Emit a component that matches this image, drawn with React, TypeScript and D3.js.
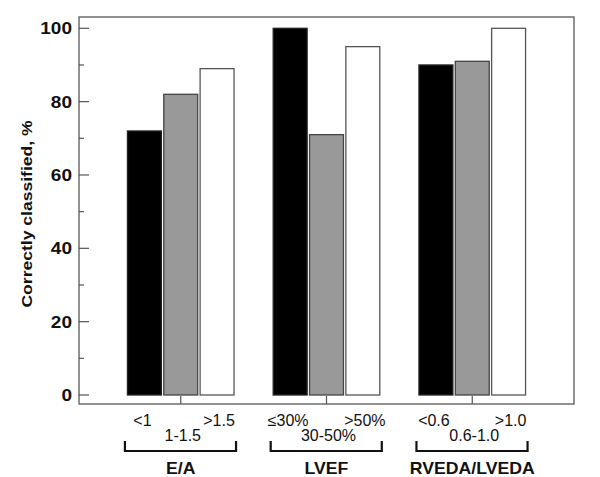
import React from "react";
import * as d3 from "d3";

const groups = ["E/A", "LVEF", "RVEDA/LVEDA"];
const series = ["low", "mid", "high"];
const values = [
  [72, 82, 89],
  [100, 71, 95],
  [90, 91, 100],
];
const lowLabels = ["<1", "≤30%", "<0.6"];
const highLabels = [">1.5", ">50%", ">1.0"];
const midLabels = ["1-1.5", "30-50%", "0.6-1.0"];
const yTicks = [0, 20, 40, 60, 80, 100];
const yMinorTicks = [10, 30, 50, 70, 90];
const fills = ["#000000", "#999999", "#ffffff"];
const strokes = ["#222222", "#444444", "#555555"];

const W = 600;
const H = 477;
const left = 79;
const right = 574;
const top = 17;
const bottom = 404;
const font = "'Liberation Sans', Arial, sans-serif";

function T(props: {
  x: number;
  y: number;
  sx?: number;
  rot?: number;
  anchor?: string;
  size: number;
  bold?: boolean;
  dy?: string;
  children: React.ReactNode;
}) {
  const { x, y, sx = 1, rot = 0, anchor = "middle", size, bold, dy, children } = props;
  return (
    <text
      transform={`translate(${x},${y}) rotate(${rot}) scale(${sx},1)`}
      textAnchor={anchor}
      fontSize={size}
      fontWeight={bold ? "bold" : "normal"}
      dy={dy}
      fill="#111"
    >
      {children}
    </text>
  );
}

export default function App() {
  const y = d3.scaleLinear().domain([0, 100]).range([395, 28.3]);
  const x = d3.scalePoint<string>().domain(groups).range([left, right]).padding(0.698);
  const inner = d3
    .scaleBand<string>()
    .domain(series)
    .range([-54.5, 54.5])
    .paddingInner(0.066)
    .paddingOuter(0.033);
  const bw = inner.bandwidth();

  return (
    <svg
      width={W}
      height={H}
      style={{ position: "absolute", left: 0, top: 0, background: "#fff" }}
      fontFamily={font}
    >
      <rect x={0} y={0} width={W} height={H} fill="#fff" />
      {groups.map((g, gi) => (
        <g key={g}>
          {series.map((s, si) => {
            const x0 = (x(g) as number) + (inner(s) as number);
            const yv = y(values[gi][si]);
            return (
              <rect
                key={s}
                x={x0}
                y={yv}
                width={bw}
                height={y(0) - yv}
                fill={fills[si]}
                stroke={strokes[si]}
                strokeWidth={1.3}
              />
            );
          })}
        </g>
      ))}
      <rect
        x={left}
        y={top}
        width={right - left}
        height={bottom - top}
        fill="none"
        stroke="#6e6e6e"
        strokeWidth={1.5}
      />
      {yTicks.map((t) => (
        <g key={t}>
          <line x1={left} x2={left + 10} y1={y(t)} y2={y(t)} stroke="#555" strokeWidth={1.2} />
          <T x={72} y={y(t)} dy="0.36em" anchor="end" size={17} sx={1.12} bold>
            {t}
          </T>
        </g>
      ))}
      {yMinorTicks.map((t) => (
        <line key={t} x1={left} x2={left + 5} y1={y(t)} y2={y(t)} stroke="#555" strokeWidth={1.2} />
      ))}
      <T x={32} y={214} rot={-90} size={15} sx={1.17} bold>
        Correctly classified, %
      </T>
      {groups.map((g, gi) => {
        const cx = x(g) as number;
        const lowC = cx + (inner("low") as number) + bw / 2;
        const highC = cx + (inner("high") as number) + bw / 2;
        const bl = cx + (inner("low") as number) - 2.5;
        const br = cx + (inner("high") as number) + bw + 2;
        return (
          <g key={g}>
            <line x1={cx} x2={cx} y1={bottom} y2={bottom - 8} stroke="#555" strokeWidth={1.2} />
            <T x={lowC - 2} y={426} size={16}>
              {lowLabels[gi]}
            </T>
            <T x={highC + 2} y={426} size={16}>
              {highLabels[gi]}
            </T>
            <T x={cx + 2} y={441} size={16}>
              {midLabels[gi]}
            </T>
            <path
              d={`M${bl},441 V451 H${br} V441`}
              fill="none"
              stroke="#111"
              strokeWidth={2.2}
            />
            <T x={cx} y={474} size={16.5} sx={1.07} bold>
              {g}
            </T>
          </g>
        );
      })}
    </svg>
  );
}
